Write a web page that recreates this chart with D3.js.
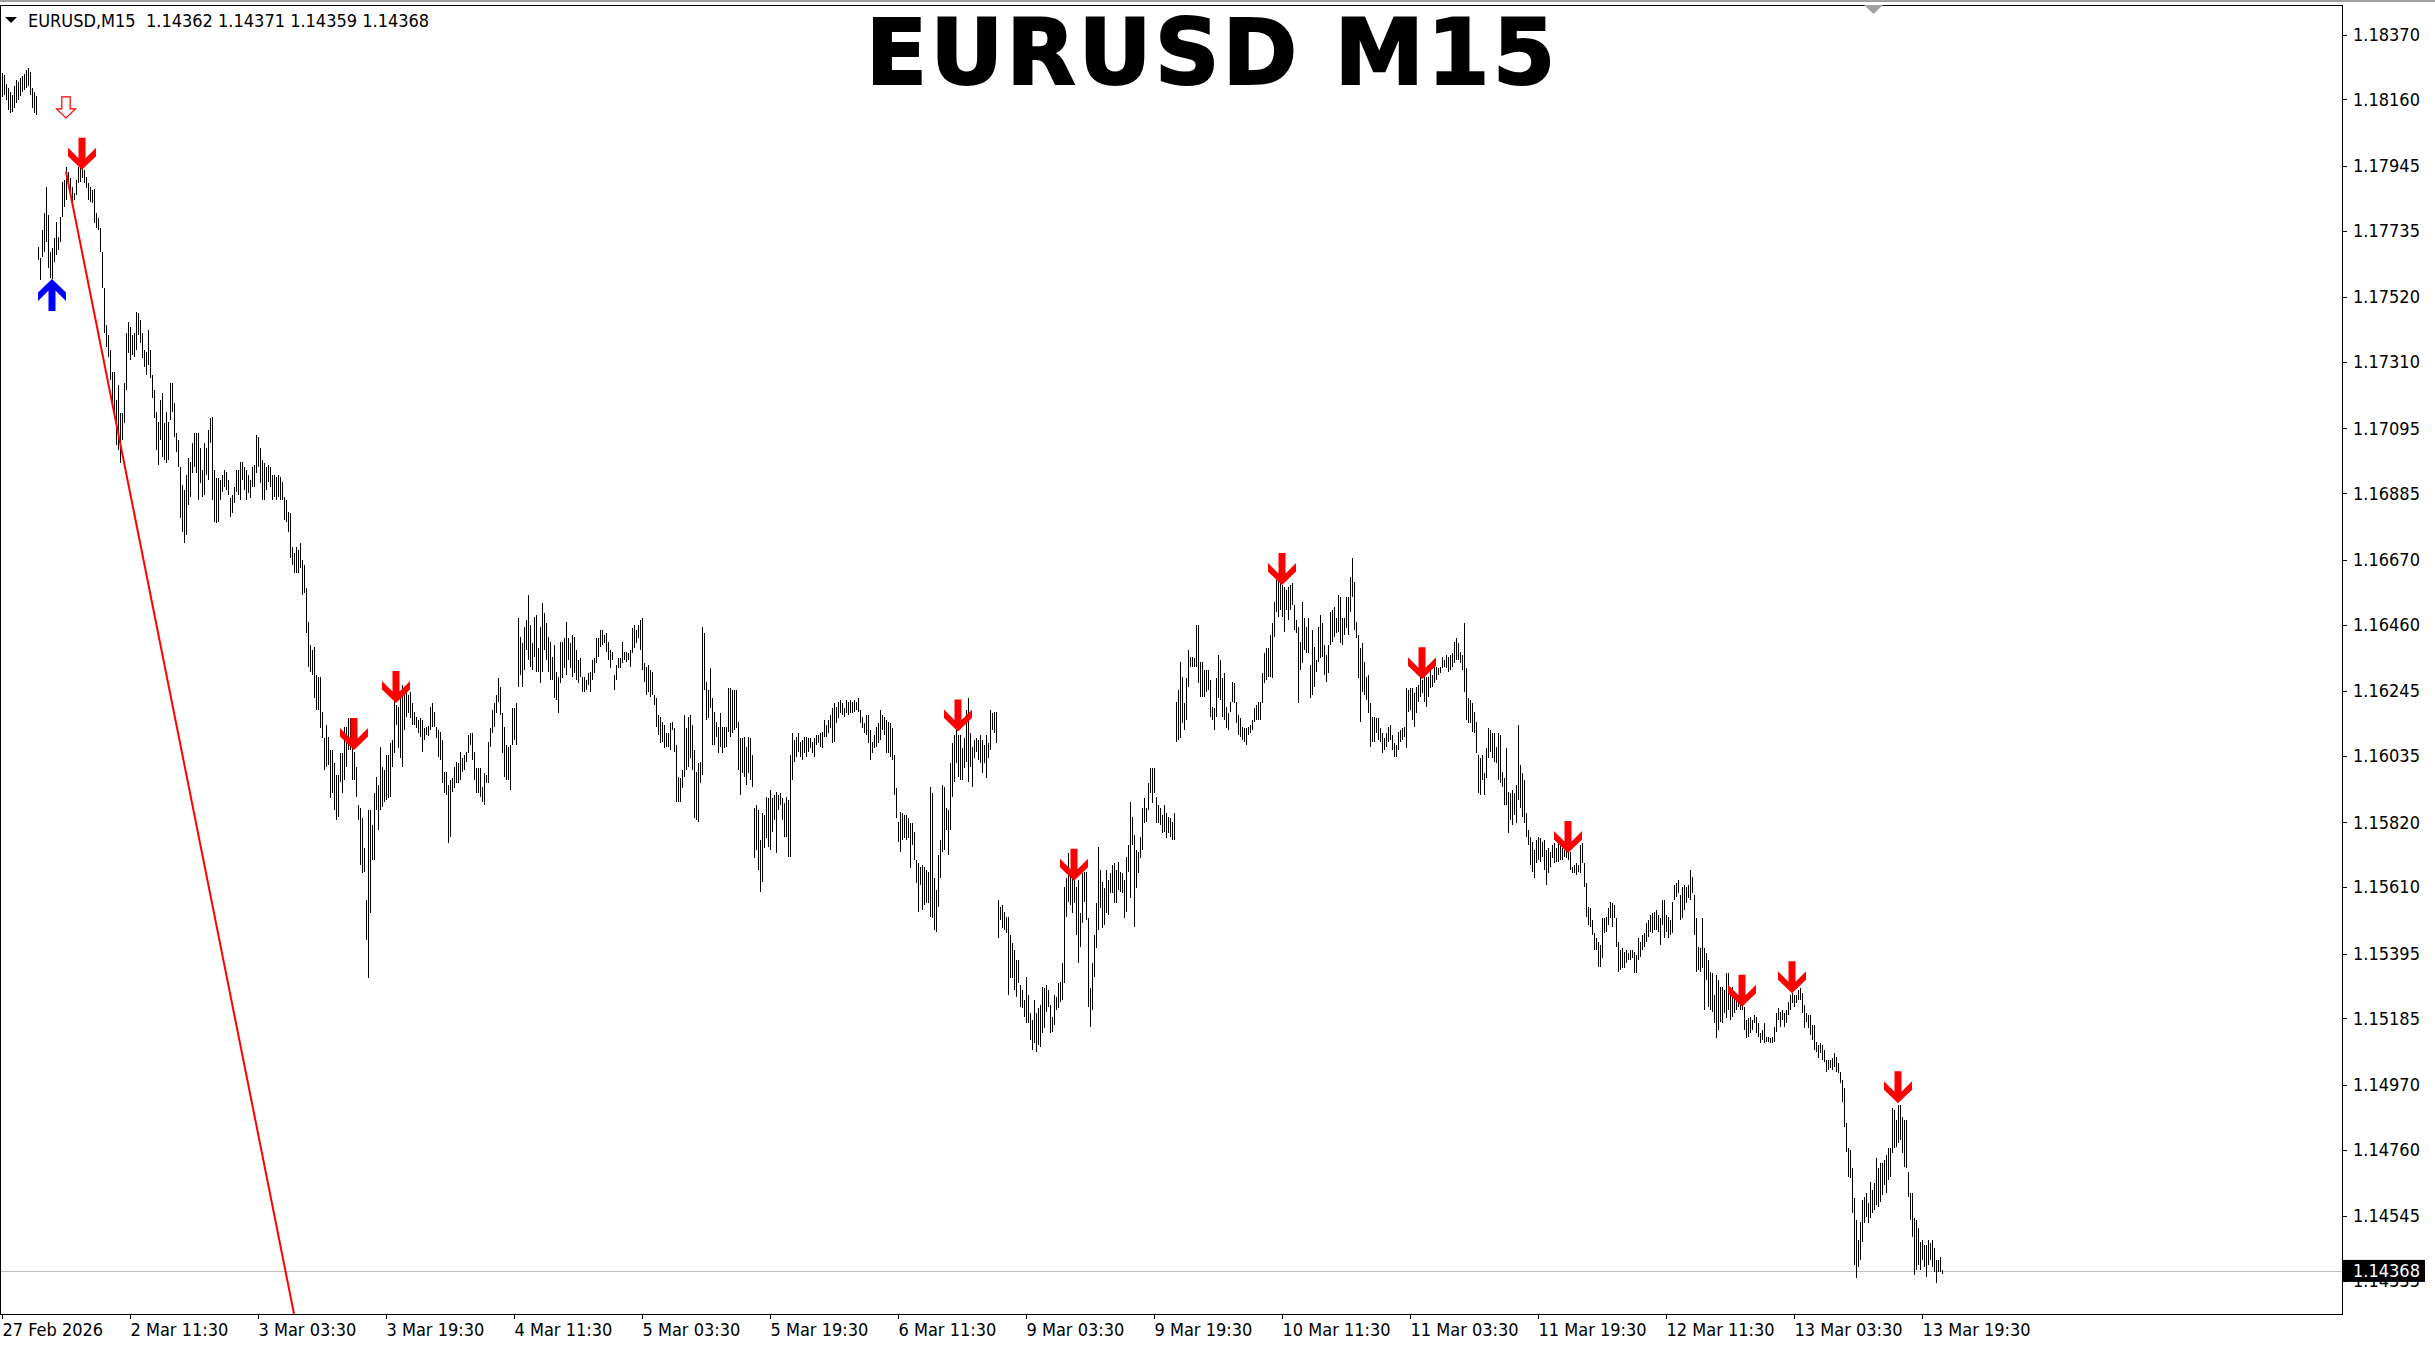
<!DOCTYPE html>
<html>
<head>
<meta charset="utf-8">
<script src="https://cdn.jsdelivr.net/npm/d3@7"></script>
<style>
  html, body { margin: 0; padding: 0; background: #fff; overflow: hidden; }
  .lbl { font-family: "DejaVu Sans Condensed", "DejaVu Sans", sans-serif; font-stretch: condensed; font-size: 18px; fill: #000; }
</style>
</head>
<body>
<div id="container"></div>
<script>
console.log("js loaded");

let w = 2435;
let h = 1346;

// bar highs / lows in points above 1.10000 (8245 -> 1.18245), one per M15 bar
let highPts = [
  8245,8239,8210,8197,8185,8175,8204,8223,8217,8229,8236,8242,8255,8262,8249,8197,8185,8172,
  7682,7647,7737,7792,7876,7786,7667,7679,7711,7764,7714,7779,
  7893,7899,7941,7926,7906,7876,7857,7899,7941,7948,7941,7932,7909,7889,7876,7867,7870,7792,7776,7744,
  7667,7550,7430,7398,7349,7278,7278,7187,7236,7145,7145,7242,7404,7440,7423,7398,7404,7472,7468,7446,
  7404,7349,7343,7414,7349,7268,7220,7149,7116,7187,7210,7112,7149,7116,7242,7242,7177,7080,7058,6970,
  6912,6896,6945,6999,6987,7048,7080,7080,7080,7032,6961,7048,7032,7090,7129,7132,6961,6935,6935,6928,
  6945,6961,6955,6928,6870,6880,6905,6961,6961,6987,6987,6970,6961,6945,6928,6970,6977,7074,7067,7032,
  6993,6983,6970,6977,6970,6945,6945,6938,6945,6938,6922,6873,6863,6825,6821,6711,6692,6711,6702,6724,
  6669,6653,6578,6469,6394,6378,6387,6297,6290,6290,6178,6093,6135,6096,6054,6054,6012,5974,5974,6044,
  6044,6129,6129,6158,6158,6109,6048,5999,5876,5866,5834,5737,5569,5860,5860,5812,5915,5967,5941,6064,
  5999,5990,6038,6038,6077,6087,6216,6200,6193,6232,6265,6255,6248,6232,6242,6206,6178,6161,6151,6158,
  6151,6125,6129,6132,6193,6206,6178,6129,6119,6113,6087,5984,5984,5941,5957,5964,5999,6016,6012,6048,
  6028,6038,6048,6103,6109,6109,6048,5996,5996,5996,5934,5980,5974,6081,6125,6184,6206,6232,6287,6258,
  6174,6129,6071,6064,6071,6190,6190,6206,6481,6420,6400,6452,6475,6556,6459,6400,6484,6491,6384,6452,
  6530,6497,6465,6420,6404,6355,6394,6307,6290,6404,6404,6417,6469,6417,6400,6427,6420,6378,6346,6352,
  6290,6290,6281,6303,6307,6346,6352,6417,6417,6443,6443,6427,6433,6404,6378,6372,6297,6330,6352,6352,
  6404,6372,6372,6368,6378,6449,6459,6443,6459,6475,6481,6336,6323,6330,6313,6307,6232,6222,6168,6161,
  6145,6135,6109,6109,6141,6145,6125,6071,5967,5964,5990,6168,6125,6161,6168,6135,6054,5984,6012,6016,
  6452,6433,6275,6248,6320,6222,6178,6145,6129,6174,6129,6129,6129,6255,6255,6248,6248,6248,6145,6093,
  6093,6096,6064,6096,6093,6038,5866,5876,5860,5763,5850,5844,5902,5899,5925,5899,5909,5919,5909,5915,
  5899,5882,5902,5892,6038,6109,6087,6096,6109,6081,6087,6096,6096,6093,6093,6081,6093,6103,6103,6109,
  6113,6151,6135,6151,6168,6190,6206,6193,6210,6216,6206,6190,6216,6210,6216,6210,6216,6210,6222,6184,
  6161,6141,6168,6168,6119,6081,6103,6129,6141,6184,6168,6161,6151,6145,6141,6125,6038,5931,5822,5854,
  5850,5844,5844,5834,5818,5818,5789,5698,5688,5676,5682,5676,5666,5660,5934,5915,5640,5601,5714,5763,
  5941,5934,5866,5860,6012,6077,6103,6119,6103,6103,6061,6093,6184,6222,6109,6064,6087,6093,6087,6103,
  6087,6071,6103,6077,6184,6174,6178,6178,
  5569,5546,5553,5530,5514,5514,5456,5429,5407,5374,5374,5294,5277,5245,5319,5261,5203,5180,5245,5203,
  5219,5229,5287,5284,5294,5277,5229,5190,5261,5254,5300,5304,5364,5611,5640,5720,5643,5650,5640,5611,
  5633,5526,5656,5660,5660,5510,5284,5364,5456,5559,5740,5666,5627,5607,5666,5633,5656,5682,5688,5666,
  5692,5660,5656,5633,5707,5747,5886,5837,5779,5730,5724,5772,5866,5899,5866,5947,5996,5996,5996,5902,
  5876,5866,5844,5876,5850,5837,5834,5822,5850,6210,6248,6340,6290,6206,6287,6378,6355,6355,6352,6459,
  6459,6340,6340,6313,6313,6313,6281,6193,6190,6287,6362,6346,6287,6303,6193,6174,6210,6275,6271,6210,
  6168,6158,6129,6125,6125,6129,6135,6151,6190,6200,6210,6210,6303,6368,6384,6384,6427,6465,6534,6604,
  6604,6594,6588,6581,6572,6581,6588,6594,6524,6475,6452,6404,6534,6481,6452,6481,6330,6443,6387,6346,
  6452,6491,6465,6394,6362,6394,6501,6507,6517,6481,6556,6549,6481,6481,6549,6549,6614,6676,6598,6469,
  6427,6384,6400,6340,6290,6297,6206,6161,6161,6158,6158,6125,6109,6093,6109,6129,6135,6103,6077,6071,
  6113,6119,6125,6129,6255,6248,6255,6255,6238,6258,6265,6290,6281,6307,6290,6290,6313,6297,6323,6323,
  6320,6323,6355,6346,6362,6355,6362,6368,6404,6417,6400,6372,6362,6465,6320,6222,6216,6206,6178,6145,
  6038,6028,6038,5980,6061,6125,6119,6109,6109,6064,6109,6103,5984,5964,6061,5919,5915,5925,5915,5941,
  6135,6006,5980,5957,5850,5795,5772,5757,5730,5763,5772,5769,5757,5763,5730,5737,5724,5747,5753,5737,
  5763,5747,5737,5730,5737,5740,5724,5676,5682,5688,5682,5747,5753,5688,5623,5546,5543,5504,5462,5446,
  5433,5423,5510,5510,5514,5543,5563,5559,5553,5510,5433,5407,5413,5400,5407,5397,5407,5407,5400,5391,
  5446,5433,5456,5462,5494,5504,5520,5526,5530,5536,5520,5510,5569,5569,5520,5514,5504,5563,5617,5624,
  5633,5585,5611,5617,5611,5617,5666,5643,5585,5510,5416,5413,5510,5413,5397,5374,5336,5332,5261,5326,
  5310,5287,5287,5277,5332,5332,5268,5287,5268,5254,5261,5235,5239,5222,5180,5187,5190,5180,5196,5190,
  5170,5138,5148,5170,5125,5125,5122,5125,5157,5203,5219,5207,5213,5203,5213,5239,5261,5268,5261,5261,
  5277,5284,5268,5229,5203,5196,5196,5164,5164,5109,5099,5105,5099,5083,5051,5051,5051,5057,5073,5060,
  5041,5012,4986,4960,4847,4766,4759,4701,4604,4533,4468,4527,4598,4607,4620,4588,4656,4630,4652,4733,
  4701,4717,4717,4727,4743,4766,4766,4895,4889,4857,4905,4905,4866,4857,4857,4689,4620,4620,4539,4533,
  4507,4462,4468,4452,4452,4468,4458,4468,4442,4403,4403,4413,4371
];
let lowPts = [
  8168,8175,8158,8126,8116,8120,8132,8148,8158,8172,8185,8191,8197,8204,8175,8132,8116,8110,
  7640,7576,7650,7667,7699,7614,7582,7579,7634,7657,7673,7699,
  7779,7812,7835,7883,7851,7812,7835,7851,7889,7893,7906,7889,7873,7835,7829,7825,7760,7744,7737,7667,
  7550,7404,7358,7326,7252,7164,7149,7042,7025,6983,7058,7112,7220,7339,7317,7333,7326,7349,7398,7371,
  7323,7294,7268,7301,7258,7194,7129,7025,6977,7058,7002,6993,6983,6993,7122,7149,7067,7019,6970,6805,
  6760,6724,6750,6847,6873,6951,6970,6951,6863,6918,6873,6880,6945,6928,7048,6863,6793,6789,6793,6863,
  6890,6905,6896,6880,6808,6821,6853,6890,6880,6863,6928,6896,6863,6886,6870,6905,6905,6951,6970,6918,
  6863,6863,6896,6922,6905,6863,6873,6863,6873,6863,6863,6799,6793,6760,6676,6653,6627,6627,6627,6643,
  6556,6562,6433,6323,6307,6297,6222,6184,6184,6125,6093,5990,5999,6006,5899,5915,5860,5828,5837,5951,
  5915,5957,5999,6054,6054,5957,5957,5902,5828,5682,5656,5660,5439,5316,5526,5698,5698,5860,5795,5860,
  5869,5886,5892,5899,5902,5999,6044,6135,6061,6028,5999,6119,6161,6174,6158,6135,6135,6125,6109,6096,
  6048,6087,6103,6100,6119,6129,6129,6093,6031,6022,5947,5915,5909,5753,5772,5919,5931,5947,5947,5957,
  5984,5990,6016,6044,6071,6022,5957,5915,5915,5902,5886,5876,5947,5947,6064,6109,6129,6174,6210,6168,
  6044,5967,5957,5957,5925,6071,6087,6071,6258,6297,6258,6313,6378,6346,6323,6313,6355,6307,6307,6271,
  6307,6378,6346,6307,6281,6281,6222,6216,6174,6271,6287,6320,6297,6346,6320,6290,6303,6281,6271,6290,
  6242,6242,6248,6265,6242,6281,6303,6336,6355,6387,6394,6400,6372,6346,6320,6346,6248,6281,6320,6320,
  6336,6346,6340,6346,6323,6368,6384,6400,6417,6378,6313,6275,6232,6242,6225,6232,6200,6129,6103,6077,
  6081,6061,6064,6064,6054,6119,6048,5886,5886,5886,5931,5967,5990,5999,6028,5990,5834,5828,5822,5947,
  5974,6248,6151,6158,6190,6071,6071,6096,6044,6064,6044,6061,6064,6113,6096,6109,6119,6125,5990,5909,
  5980,5967,5941,5980,5957,5934,5704,5730,5666,5595,5627,5737,5769,5740,5730,5789,5828,5720,5860,5876,
  5828,5772,5772,5707,5707,5957,6016,6031,6048,6031,6022,6044,6031,6048,6061,6044,6031,6071,6077,6064,
  6061,6096,6096,6109,6125,6077,6081,6141,6158,6174,6168,6161,6174,6168,6174,6174,6178,6184,6178,6141,
  6125,6109,6103,6077,6022,6044,6061,6064,6077,6087,6119,6103,6044,6044,6031,6022,5909,5834,5757,5724,
  5763,5769,5763,5769,5672,5747,5698,5624,5530,5617,5536,5553,5559,5559,5514,5511,5472,5465,5546,5640,
  5724,5730,5795,5714,5795,5902,5951,6012,5967,5957,5957,5996,6016,5951,5999,5934,6028,6048,6022,6012,
  5980,6012,5964,6028,6054,6119,6109,6077,
  5446,5504,5478,5472,5462,5261,5316,5316,5277,5254,5300,5222,5219,5190,5170,5170,5115,5083,5105,5077,
  5099,5092,5138,5154,5207,5222,5138,5142,5164,5213,5219,5239,5245,5300,5514,5563,5553,5526,5559,5456,
  5364,5416,5494,5563,5504,5222,5157,5213,5319,5413,5472,5543,5478,5488,5526,5520,5591,5591,5559,5559,
  5601,5595,5591,5510,5530,5660,5575,5747,5481,5607,5656,5704,5730,5818,5822,5860,5915,5882,5915,5818,
  5818,5812,5785,5789,5769,5785,5772,5763,5763,6081,6087,6093,6141,6119,6151,6258,6323,6323,6323,6323,
  6271,6225,6225,6225,6242,6248,6161,6151,6119,6161,6222,6216,6161,6151,6125,6119,6178,6210,6206,6141,
  6103,6096,6087,6081,6071,6103,6109,6119,6145,6151,6151,6151,6206,6271,6281,6290,6290,6287,6420,6501,
  6484,6507,6484,6437,6507,6475,6507,6524,6443,6433,6206,6313,6336,6378,6368,6368,6222,6232,6258,6307,
  6340,6352,6355,6297,6275,6303,6394,6404,6420,6433,6436,6400,6394,6427,6449,6427,6501,6549,6443,6417,
  6287,6145,6242,6232,6216,6174,6064,6081,6081,6109,6087,6081,6044,6054,6064,6081,6087,6054,6031,6031,
  6054,6081,6087,6096,6061,6178,6184,6151,6129,6174,6210,6225,6238,6210,6193,6225,6255,6258,6271,6281,
  6297,6303,6320,6323,6320,6307,6313,6323,6336,6346,6346,6336,6313,6242,6151,6141,6141,6113,6109,6044,
  5915,5909,5957,5909,5964,6028,6048,6028,6016,6012,5957,5947,5934,5876,5876,5785,5828,5812,5844,5818,
  5892,5866,5837,5818,5772,5747,5682,5660,5640,5688,5698,5692,5707,5666,5617,5656,5676,5704,5688,5692,
  5692,5698,5698,5707,5704,5698,5666,5656,5656,5650,5660,5656,5688,5611,5513,5488,5481,5456,5407,5407,
  5351,5352,5381,5462,5465,5488,5510,5481,5510,5416,5336,5342,5349,5349,5364,5374,5374,5381,5332,5332,
  5374,5384,5407,5416,5433,5449,5465,5462,5472,5472,5465,5423,5488,5446,5465,5446,5456,5462,5569,5578,
  5591,5504,5510,5536,5559,5575,5569,5591,5456,5336,5342,5336,5349,5213,5310,5222,5213,5207,5170,5122,
  5148,5174,5170,5203,5187,5213,5180,5190,5203,5213,5222,5213,5213,5148,5122,5125,5138,5148,5170,5138,
  5125,5105,5115,5105,5109,5109,5105,5105,5109,5142,5180,5157,5180,5157,5170,5196,5213,5235,5222,5235,
  5245,5245,5203,5154,5174,5154,5132,5115,5083,5077,5057,5073,5051,5044,5012,5018,5025,5018,5028,5012,
  5008,4976,4915,4834,4753,4672,4669,4555,4387,4345,4380,4403,4462,4523,4542,4523,4539,4555,4565,4582,
  4575,4592,4614,4646,4620,4662,4672,4749,4766,4769,4782,4792,4750,4704,4701,4607,4533,4477,4355,4371,
  4387,4371,4403,4380,4348,4387,4403,4381,4365,4329,4365,4365,4359
];

// time axis: one label every 64 bars, starting at the first bar
let timeLabels = ["27 Feb 2026","2 Mar 11:30","3 Mar 03:30","3 Mar 19:30","4 Mar 11:30","5 Mar 03:30",
  "5 Mar 19:30","6 Mar 11:30","9 Mar 03:30","9 Mar 19:30","10 Mar 11:30","11 Mar 03:30",
  "11 Mar 19:30","12 Mar 11:30","13 Mar 03:30","13 Mar 19:30"];
let priceLabels = [1.18370,1.18160,1.17945,1.17735,1.17520,1.17310,1.17095,1.16885,1.16670,1.16460,
  1.16245,1.16035,1.15820,1.15610,1.15395,1.15185,1.14970,1.14760,1.14545,1.14335];

// last quote: open, high, low, close
let quote = [1.14362, 1.14371, 1.14359, 1.14368];

// signal arrows [bar, price]
let sellArrows = [[40,1.17932],[176,1.16054],[197,1.16206],[478,1.16114],[536,1.15631],[640,1.16588],
  [710,1.16283],[783,1.15721],[870,1.15223],[895,1.15267],[948,1.14911]];
let buyArrows = [[25,1.17579]];
let hollowArrows = [[32,1.18100]];

// trend line anchors [bar, price]
let trendLine = [[32,1.17926],[146,1.14229]];

let plotRight = 2342, plotTop = 5, plotBottom = 1314;

let bars = highPts.map(function(hp, i){
  return {i: i, high: 1.1 + hp / 1e5, low: 1.1 + lowPts[i] / 1e5};
});

let viz = d3.select("#container").append("svg")
    .attr("width", w)
    .attr("height", h)
    .style("background-color", "white")
;

let x = d3.scaleLinear().domain([0, 970]).range([2, 1942]);
let y = d3.scaleLinear().domain([quote[3], 1.18370]).range([1270.9, 34.5]);

// window frame line on top
viz.append("rect").attr("x", 0).attr("y", 0).attr("width", w).attr("height", 2).attr("fill", "#a0a0a0");

viz.append("clipPath").attr("id", "plotclip")
  .append("rect").attr("x", 0).attr("y", plotTop).attr("width", plotRight).attr("height", plotBottom - plotTop);

let plot = viz.append("g").attr("clip-path", "url(#plotclip)");

// bid line
plot.append("line")
  .attr("x1", 0).attr("x2", plotRight)
  .attr("y1", Math.round(y(quote[3])) + 0.5).attr("y2", Math.round(y(quote[3])) + 0.5)
  .attr("stroke", "#c0c0c0").attr("stroke-width", 1);

// bars
plot.selectAll(".bar").data(bars).enter()
  .append("rect")
    .attr("class", "bar")
    .attr("x", d => Math.round(x(d.i)))
    .attr("y", d => Math.round(y(d.high)))
    .attr("width", 1)
    .attr("height", d => Math.max(1, Math.round(y(d.low)) - Math.round(y(d.high))))
    .attr("fill", "#000")
    .attr("shape-rendering", "crispEdges")
;

// trend line
plot.append("line")
  .attr("x1", x(trendLine[0][0])).attr("y1", y(trendLine[0][1]))
  .attr("x2", x(trendLine[1][0])).attr("y2", y(trendLine[1][1]))
  .attr("stroke", "#ff0000").attr("stroke-width", 2);

let arrowShape = "M-3.5,-32L3.5,-32L3.5,-11.5L14,-22L14,-13.5L0,0L-14,-13.5L-14,-22L-3.5,-11.5Z";
let hollowShape = "M-4.2,-21L4.2,-21L4.2,-9L9.5,-9L0,0L-9.5,-9L-4.2,-9Z";

plot.selectAll(".sell").data(sellArrows).enter()
  .append("path")
    .attr("d", arrowShape)
    .attr("transform", d => "translate(" + x(d[0]) + "," + y(d[1]) + ")")
    .attr("fill", "#ff0000");

plot.selectAll(".buy").data(buyArrows).enter()
  .append("path")
    .attr("d", arrowShape)
    .attr("transform", d => "translate(" + x(d[0]) + "," + y(d[1]) + ") scale(1,-1)")
    .attr("fill", "#0000ff");

plot.selectAll(".hollow").data(hollowArrows).enter()
  .append("path")
    .attr("d", hollowShape)
    .attr("transform", d => "translate(" + x(d[0]) + "," + y(d[1]) + ")")
    .attr("fill", "#fff").attr("stroke", "#ff0000").attr("stroke-width", 1.2);

// plot border
viz.append("rect")
  .attr("x", 0.5).attr("y", plotTop + 0.5)
  .attr("width", plotRight).attr("height", plotBottom - plotTop)
  .attr("fill", "none").attr("stroke", "#000").attr("stroke-width", 1)
  .attr("shape-rendering", "crispEdges");

// chart shift marker
viz.append("path").attr("d", "M1864,5L1883,5L1873.5,14Z").attr("fill", "#a0a0a0");

// price axis
let yAxis = d3.axisRight(y).tickValues(priceLabels).tickSize(5).tickPadding(6)
  .tickFormat(d3.format(".5f"));
let yg = viz.append("g").attr("transform", "translate(" + plotRight + ",0)").call(yAxis);
yg.select(".domain").remove();
yg.selectAll("line").attr("stroke", "#000").attr("shape-rendering", "crispEdges");
yg.selectAll("text").attr("class", "lbl").attr("font-family", null).attr("font-size", null);

// current price box (covers the lowest grid label, as in the terminal)
let cy = y(quote[3]);
viz.append("rect").attr("x", plotRight + 1).attr("y", cy - 11).attr("width", 82).attr("height", 22).attr("fill", "#000");
viz.append("text").attr("class", "lbl").attr("x", plotRight + 11).attr("y", cy + 6.5)
  .style("fill", "#fff").text(d3.format(".5f")(quote[3]));

// time axis
let xAxis = d3.axisBottom(x).tickValues(timeLabels.map((t, k) => k * 64)).tickSize(5)
  .tickFormat((d, k) => timeLabels[k]);
let xg = viz.append("g").attr("transform", "translate(0," + plotBottom + ")").call(xAxis);
xg.select(".domain").remove();
xg.selectAll("line").attr("stroke", "#000").attr("shape-rendering", "crispEdges");
xg.selectAll("text").attr("class", "lbl").attr("font-family", null).attr("font-size", null)
  .attr("text-anchor", "start").attr("x", 0).attr("y", 22).attr("dy", null);

// header line
viz.append("path").attr("d", "M5,17L17,17L11,23Z").attr("fill", "#000");
viz.append("text").attr("class", "lbl").attr("x", 28).attr("y", 27).style("white-space", "pre")
  .text("EURUSD,M15  " + quote.map(d3.format(".5f")).join(" "));

// title
viz.append("text")
  .attr("x", 1212).attr("y", 84)
  .attr("text-anchor", "middle")
  .style("font-family", "'DejaVu Sans', sans-serif")
  .style("font-weight", "bold")
  .style("font-size", "90px")
  .style("letter-spacing", "3px")
  .attr("fill", "#000")
  .attr("stroke", "#000")
  .attr("stroke-width", 2)
  .text("EURUSD M15");
</script>
</body>
</html>
